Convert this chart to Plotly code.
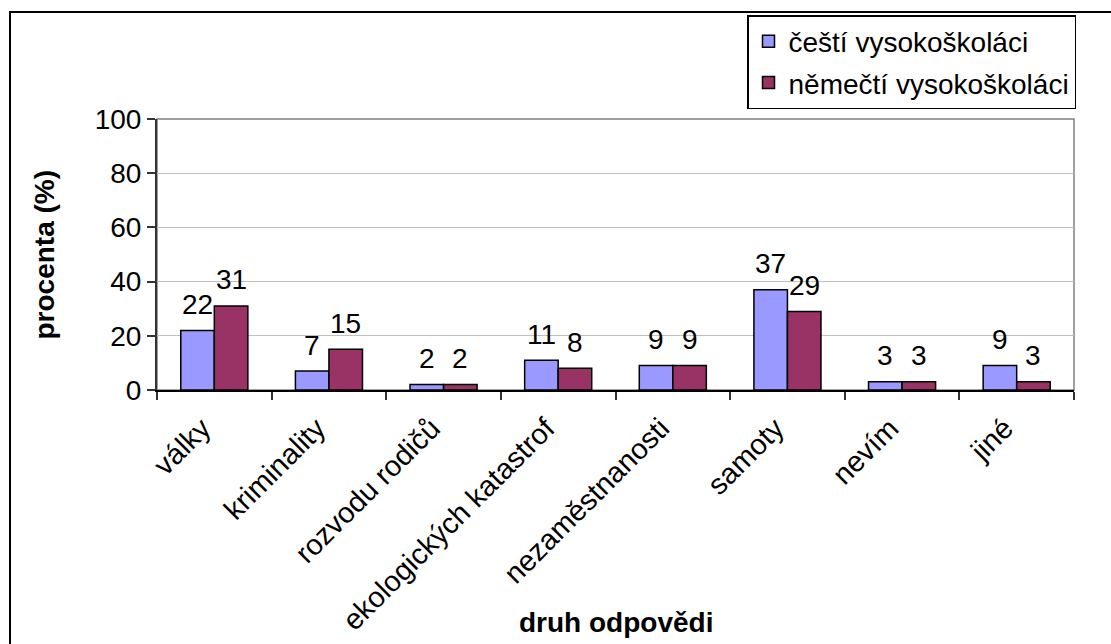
import plotly.graph_objects as go

categories = ["války", "kriminality", "rozvodu rodičů", "ekologických katastrof",
              "nezaměstnanosti", "samoty", "nevím", "jiné"]
cz_values = [22, 7, 2, 11, 9, 37, 3, 9]
de_values = [31, 15, 2, 8, 9, 29, 3, 3]
series_names = ["čeští vysokoškoláci", "němečtí vysokoškoláci"]
series_colors = ["#9999FF", "#993366"]
y_ticks = [0, 20, 40, 60, 80, 100]

FONT = "Liberation Sans, Arial, sans-serif"
FS = 28

W, H = 1111, 644
L, R, T, B = 157, 1074, 119, 390
pw, ph = R - L, B - T

def px_x(p):
    return (p - L) / pw

def px_y(p):
    return (B - p) / ph

fig = go.Figure()
for i, (name, vals, col) in enumerate(zip(series_names, [cz_values, de_values], series_colors)):
    fig.add_trace(go.Bar(
        x=categories, y=vals, name=name,
        marker=dict(color=col, line=dict(color="#000000", width=1.5)),
        legendgroup=f"g{i}",
    ))

bar_px = pw / len(categories) * (1 - 0.415) / 2
annotations = []
for i, vals in enumerate([cz_values, de_values]):
    shift = (-0.5 if i == 0 else 0.5) * bar_px
    for c, v in zip(categories, vals):
        annotations.append(dict(
            x=c, y=v, xref="x", yref="y", text=str(v), showarrow=False,
            xshift=shift, yshift=26, yanchor="middle", xanchor="center",
            font=dict(family=FONT, size=FS, color="#000000"),
        ))

annotations.append(dict(
    x=0.5, y=px_y(622), xref="paper", yref="paper", text="<b>druh odpovědi</b>",
    showarrow=False, xanchor="center", yanchor="middle",
    font=dict(family=FONT, size=FS, color="#000000"),
))
annotations.append(dict(
    x=px_x(44), y=0.5, xref="paper", yref="paper", text="<b>procenta (%)</b>",
    showarrow=False, xanchor="center", yanchor="middle", textangle=-90,
    font=dict(family=FONT, size=FS, color="#000000"),
))

shapes = [
    dict(type="rect", xref="x domain", yref="y domain", x0=0, x1=1, y0=0, y1=1,
         line=dict(color="#808080", width=1.5), layer="below"),
    dict(type="rect", xref="paper", yref="paper",
         x0=px_x(10), x1=px_x(1130), y0=px_y(12), y1=px_y(700),
         line=dict(color="#000000", width=2), layer="below"),
]

fig.update_layout(
    template="none",
    width=W, height=H,
    margin=dict(l=L, r=W - R, t=T, b=H - B, pad=0),
    paper_bgcolor="#FFFFFF", plot_bgcolor="#FFFFFF",
    barmode="group", bargap=0.415, bargroupgap=0,
    font=dict(family=FONT, size=FS, color="#000000"),
    showlegend=True,
    legend=dict(
        x=px_x(747), y=px_y(15), xanchor="left", yanchor="top",
        bgcolor="#FFFFFF", bordercolor="#000000", borderwidth=1.5,
        font=dict(family=FONT, size=FS, color="#000000"),
        traceorder="grouped", tracegroupgap=2,
    ),
    annotations=annotations,
    shapes=shapes,
    xaxis=dict(
        type="category", automargin=False,
        tickangle=-45, tickson="boundaries", ticks="outside", ticklen=8,
        tickcolor="#333333", tickwidth=1.5,
        ticklabelstandoff=8, ticklabelshift=-12,
        showline=True, linecolor="#000000", linewidth=1.5,
        showgrid=False, zeroline=False,
        tickfont=dict(family=FONT, size=29, color="#000000"),
    ),
    yaxis=dict(
        range=[0, 100], tickvals=y_ticks, automargin=False,
        ticks="outside", ticklen=8, tickcolor="#333333", tickwidth=1.5,
        showline=True, linecolor="#333333", linewidth=2,
        showgrid=True, gridcolor="#C0C0C0", gridwidth=1,
        zeroline=False,
        tickfont=dict(family=FONT, size=FS, color="#000000"),
    ),
)

fig.write_html("out.html", config={"displayModeBar": False},
               post_script="document.body.style.margin='0px';")
